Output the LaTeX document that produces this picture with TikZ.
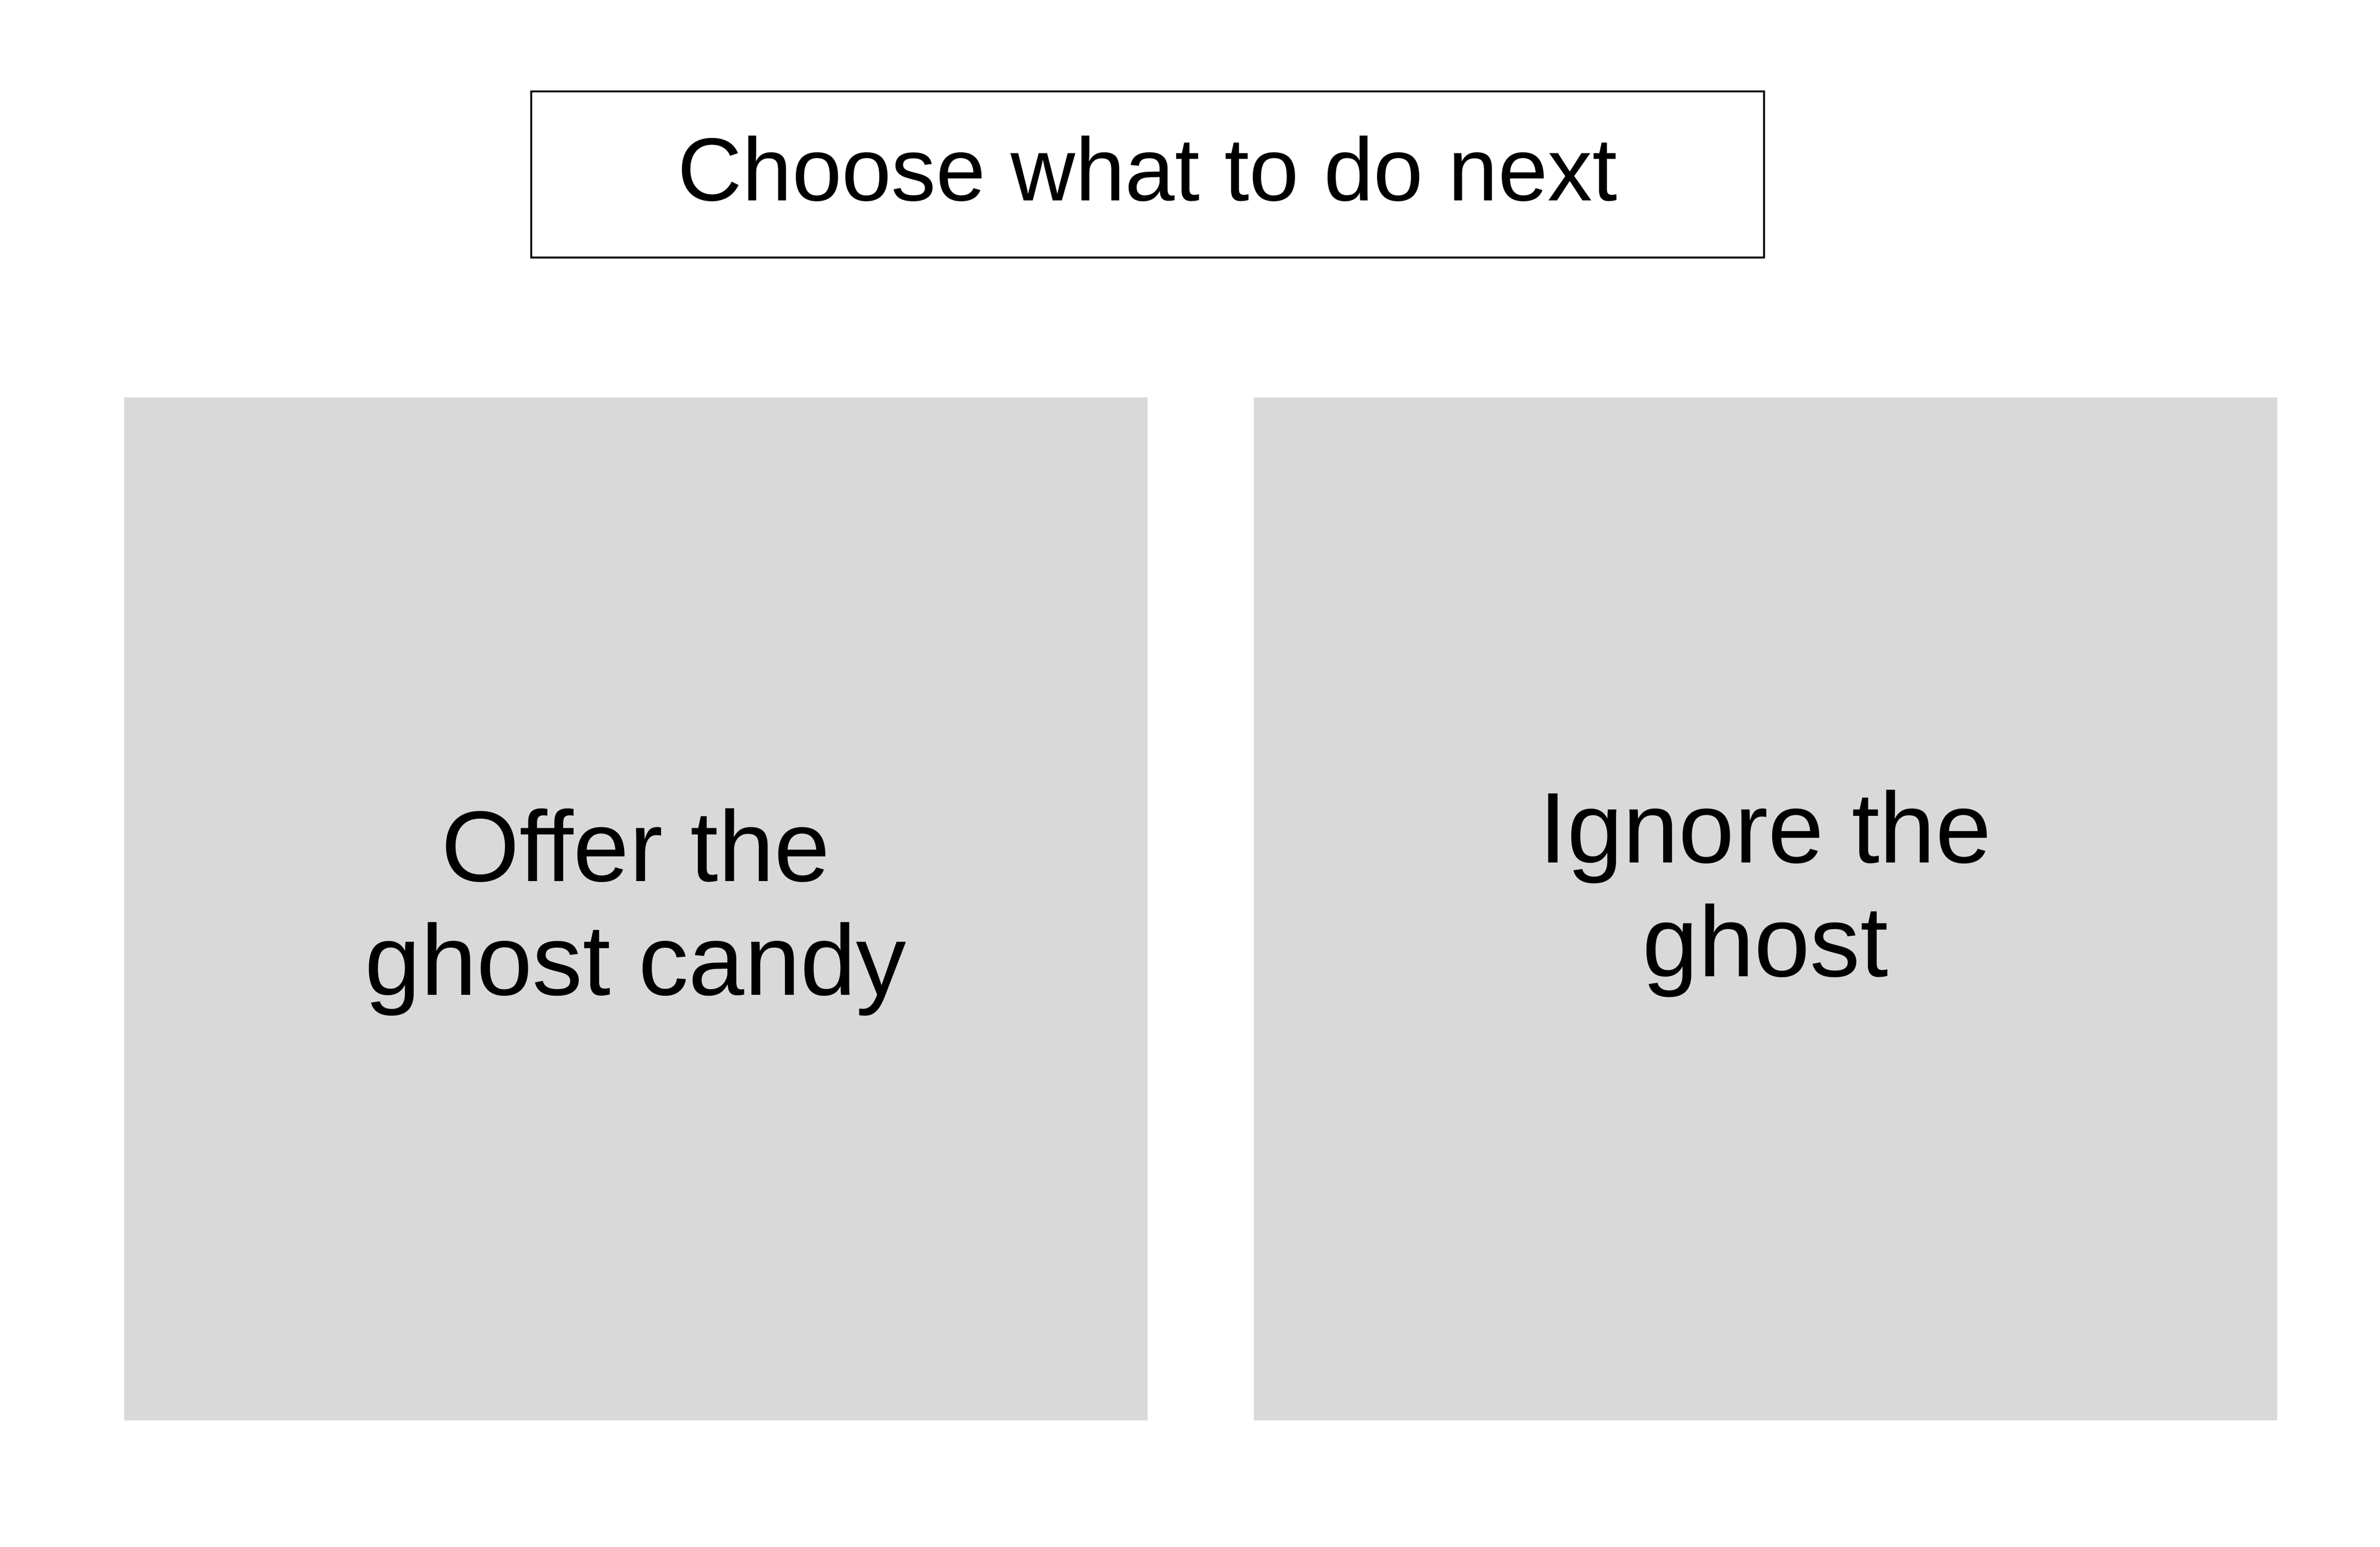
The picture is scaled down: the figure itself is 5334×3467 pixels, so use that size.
\documentclass[tikz,border=0pt]{standalone}
\usepackage{fontspec}
\setmainfont{Liberation Sans}
\definecolor{choicegray}{HTML}{D9D9D9}
\begin{document}
\begin{tikzpicture}[x=0.01cm, y=-0.01cm, node distance=25.3cm,
			title node/.style={draw, line width=1.2pt, minimum width=27.62cm, minimum height=3.73cm, inner sep=0pt, text depth=8pt, font=\fontsize{57}{68}\selectfont},
			choice node/.style={fill=choicegray, minimum size=22.92cm, inner sep=0pt},
			choice text/.style={align=center, inner sep=0pt, font=\fontsize{64}{72.5}\selectfont}]
			
			\useasboundingbox (0,0) rectangle (5334,3467);
			
			\node[title node] (title) at (2572,391) {Choose what to do next};
			\node[choice node] (offer) at (1425,2037) {};
			\node[choice node] (ignore) [right of=offer] {};
			
			\node[choice text, yshift=-0.07cm] (offer text) at (offer) {Offer the\\ghost candy};
			\node[choice text, yshift=0.34cm] (ignore text) at (ignore) {Ignore the\\ghost};
			\end{tikzpicture}
\end{document}
